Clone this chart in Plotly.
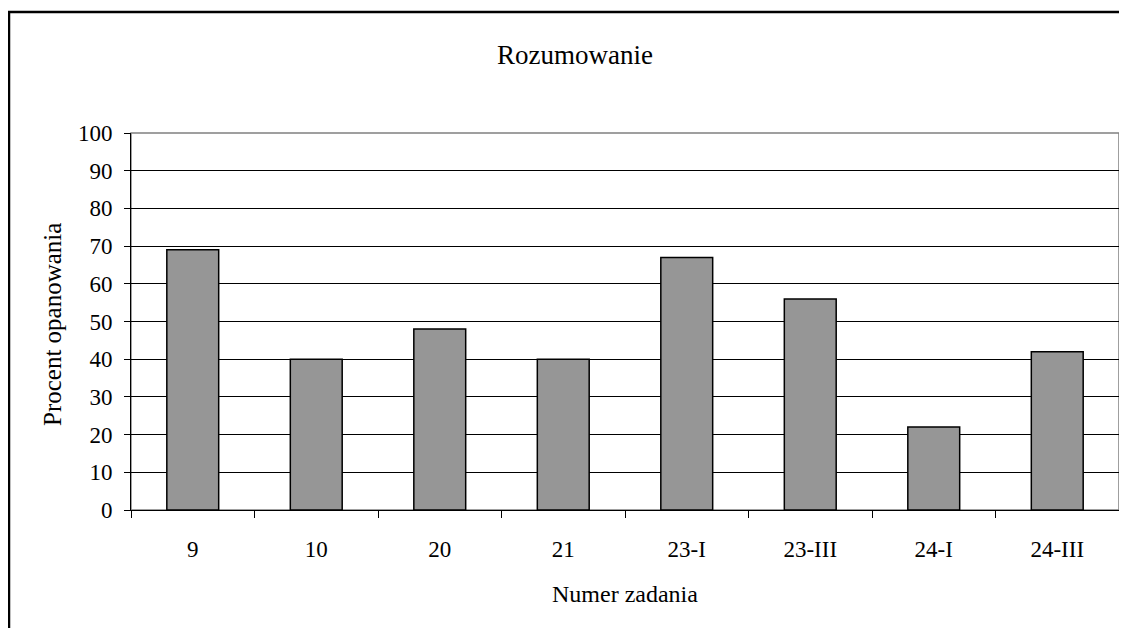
import plotly.graph_objects as go

categories = ["9", "10", "20", "21", "23-I", "23-III", "24-I", "24-III"]
values = [69, 40, 48, 40, 67, 56, 22, 42]
title_text = "Rozumowanie"
x_title = "Numer zadania"
y_title = "Procent opanowania"

# the page body has an 8px margin, so the figure is placed at (8, 8)
OFF = 8
W, H = 1127 - OFF, 628 - OFF
L, R, T, B = 131 - OFF, 8, 133 - OFF, 118
pw = W - L - R
ph = H - T - B

def px_x(px):
    return (px - OFF - L) / pw

def px_y(py):
    return (H - B - (py - OFF)) / ph

font_family = "Liberation Serif, Times New Roman, serif"

fig = go.Figure()
fig.add_trace(go.Bar(
    x=categories, y=values,
    marker=dict(color="#969696", line=dict(color="#000000", width=1.5)),
    hoverinfo="x+y",
))

fig.update_layout(
    width=W, height=H,
    margin=dict(l=L, r=R, t=T, b=B, autoexpand=False),
    paper_bgcolor="white", plot_bgcolor="white",
    bargap=0.58,
    showlegend=False,
    font=dict(family=font_family, size=23, color="black"),
)
fig.update_xaxes(
    type="category",
    showline=True, linecolor="black", linewidth=1,
    ticks="outside", ticklen=7, tickcolor="black", tickwidth=1,
    tickson="boundaries",
    showgrid=False,
    tickfont=dict(family=font_family, size=23, color="black"),
    ticklabelstandoff=18,
)
fig.update_yaxes(
    range=[0, 100], dtick=10, tick0=0,
    showline=True, linecolor="black", linewidth=1,
    ticks="outside", ticklen=6, tickcolor="black", tickwidth=1,
    showgrid=True, gridcolor="#000000", gridwidth=1,
    zeroline=False,
    tickfont=dict(family=font_family, size=23, color="black"),
    ticklabelstandoff=7,
)

# plot-area border (gray) and outer chart border (black)
fig.add_shape(type="rect", xref="paper", yref="paper", x0=0, x1=1, y0=0, y1=1,
              line=dict(color="#808080", width=1.5), layer="below")
fig.add_shape(type="rect", xref="paper", yref="paper",
              x0=px_x(9), x1=px_x(1160), y0=px_y(700), y1=px_y(12),
              line=dict(color="black", width=2.5), layer="above")

fig.add_annotation(text=title_text, xref="paper", yref="paper",
                   x=px_x(575), y=px_y(55), xanchor="center", yanchor="middle",
                   showarrow=False, font=dict(family=font_family, size=27, color="black"))
fig.add_annotation(text=x_title, xref="paper", yref="paper",
                   x=px_x(625), y=px_y(594), xanchor="center", yanchor="middle",
                   showarrow=False, font=dict(family=font_family, size=24, color="black"))
fig.add_annotation(text=y_title, xref="paper", yref="paper",
                   x=px_x(52), y=px_y(325), xanchor="center", yanchor="middle",
                   textangle=-90,
                   showarrow=False, font=dict(family=font_family, size=25, color="black"))

fig.write_html("out.html")
